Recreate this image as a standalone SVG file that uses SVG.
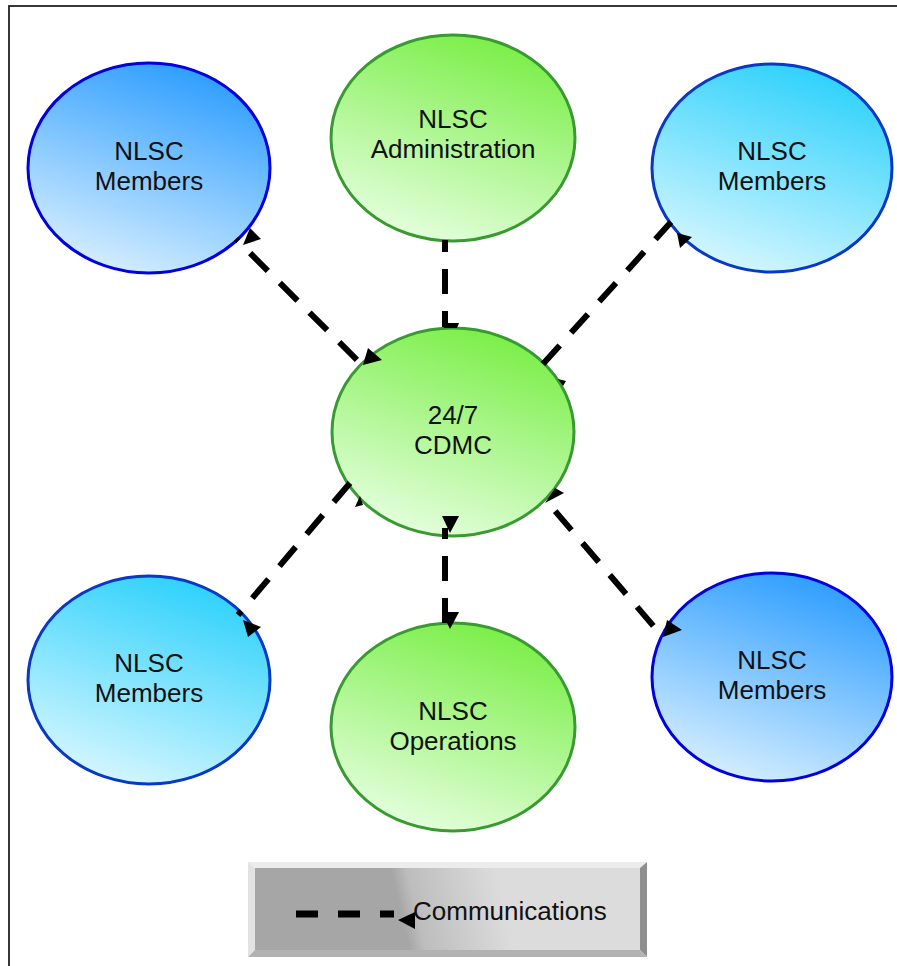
<svg xmlns="http://www.w3.org/2000/svg" width="897" height="966" viewBox="0 0 897 966">
<defs>
<linearGradient id="gBlue" x1="0.7" y1="0" x2="0.3" y2="1"><stop offset="0" stop-color="#2a9cff"/><stop offset="1" stop-color="#d8efff"/></linearGradient>
<linearGradient id="gCyan" x1="0.7" y1="0" x2="0.3" y2="1"><stop offset="0" stop-color="#2ad0fb"/><stop offset="1" stop-color="#d8f7ff"/></linearGradient>
<linearGradient id="gGreen" x1="0.7" y1="0" x2="0.3" y2="1"><stop offset="0" stop-color="#78ee44"/><stop offset="1" stop-color="#e6ffe0"/></linearGradient>
<linearGradient id="gLegend" gradientUnits="userSpaceOnUse" x1="400" y1="909" x2="500" y2="886"><stop offset="0" stop-color="#a6a6a6"/><stop offset="0.15" stop-color="#bdbdbd"/><stop offset="1" stop-color="#dcdcdc"/></linearGradient>
</defs>
<style>
.blue{fill:url(#gBlue);stroke:#0000e0;stroke-width:3}
.cyan{fill:url(#gCyan);stroke:#0838c8;stroke-width:3}
.green{fill:url(#gGreen);stroke:#3a9a32;stroke-width:3}
.lbl{font-family:"Liberation Sans",Arial,sans-serif;font-size:26px;fill:#111;text-anchor:middle}
.conn{fill:none;stroke:#000;stroke-width:6;stroke-dasharray:25 17}
.ah{fill:#000}
</style>
<rect width="897" height="966" fill="#fff"/>
<rect x="9" y="6" width="900" height="980" fill="none" stroke="#222" stroke-width="1.8"/>

<g id="members-tl"><ellipse class="blue" cx="149" cy="168" rx="121" ry="105"/><text class="lbl" x="149" y="160">NLSC</text><text class="lbl" x="149" y="190">Members</text></g>
<g id="administration"><ellipse class="green" cx="453" cy="138" rx="122" ry="103"/><text class="lbl" x="453" y="128">NLSC</text><text class="lbl" x="453" y="158">Administration</text></g>
<g id="members-tr"><ellipse class="cyan" cx="772" cy="168" rx="120" ry="104"/><text class="lbl" x="772" y="160">NLSC</text><text class="lbl" x="772" y="190">Members</text></g>
<g id="cdmc"><ellipse class="green" cx="453" cy="432" rx="121" ry="104"/><text class="lbl" x="453" y="424">24/7</text><text class="lbl" x="453" y="454">CDMC</text></g>
<g id="members-bl"><ellipse class="cyan" cx="149" cy="680" rx="121" ry="104"/><text class="lbl" x="149" y="672">NLSC</text><text class="lbl" x="149" y="702">Members</text></g>
<g id="operations"><ellipse class="green" cx="453" cy="727" rx="122" ry="104"/><text class="lbl" x="453" y="720">NLSC</text><text class="lbl" x="453" y="750">Operations</text></g>
<g id="members-br"><ellipse class="blue" cx="772" cy="677" rx="120" ry="104"/><text class="lbl" x="772" y="669">NLSC</text><text class="lbl" x="772" y="699">Members</text></g>

<g id="connectors">
<line class="conn" x1="445" y1="240" x2="445" y2="327" stroke-dashoffset="13"/>
<polygon class="ah" points="442,323 459,323 457,328 444,328"/>
<line class="conn" x1="236" y1="239" x2="363" y2="366" stroke-dashoffset="22"/>
<polygon class="ah" points="243,245 261,239 250,228"/>
<polygon class="ah" points="363,365 382,360 368,348"/>
<line class="conn" x1="543" y1="364" x2="671" y2="222"/>
<polygon class="ah" points="677,233 692,237 680,248"/>
<polygon class="ah" points="558,379 566,381 563,386"/>
<line class="conn" x1="350" y1="483" x2="238" y2="615"/>
<polygon class="ah" points="243,620 261,627 248,637"/>
<polygon class="ah" points="355,507 363,505 360,496"/>
<line class="conn" x1="550" y1="505" x2="662" y2="636" stroke-dashoffset="-8"/>
<polygon class="ah" points="545,503 564,493 555,488"/>
<polygon class="ah" points="663,637 667,620 682,630"/>
<line class="conn" x1="445" y1="528" x2="445" y2="624" stroke-dashoffset="14"/>
<polygon class="ah" points="442,516 459,516 450,533"/>
<polygon class="ah" points="442,612 459,612 450,629"/>
</g>

<g id="legend">
<polygon points="248,862 647,862 640,868 255,868" fill="#ececec"/>
<polygon points="248,862 255,868 255,950 248,957" fill="#e2e2e2"/>
<polygon points="647,862 647,957 640,950 640,868" fill="#8e8e8e"/>
<polygon points="248,957 255,950 640,950 647,957" fill="#b2b2b2"/>
<rect x="255" y="868" width="385" height="82" fill="url(#gLegend)"/>
<line x1="296" y1="914" x2="394" y2="914" stroke="#000" stroke-width="7" stroke-dasharray="22 20"/>
<polygon class="ah" points="398,920 415,912 415,929"/>
<text x="413" y="920" font-family="Liberation Sans, Arial, sans-serif" font-size="26" fill="#111">Communications</text>
</g>
</svg>
